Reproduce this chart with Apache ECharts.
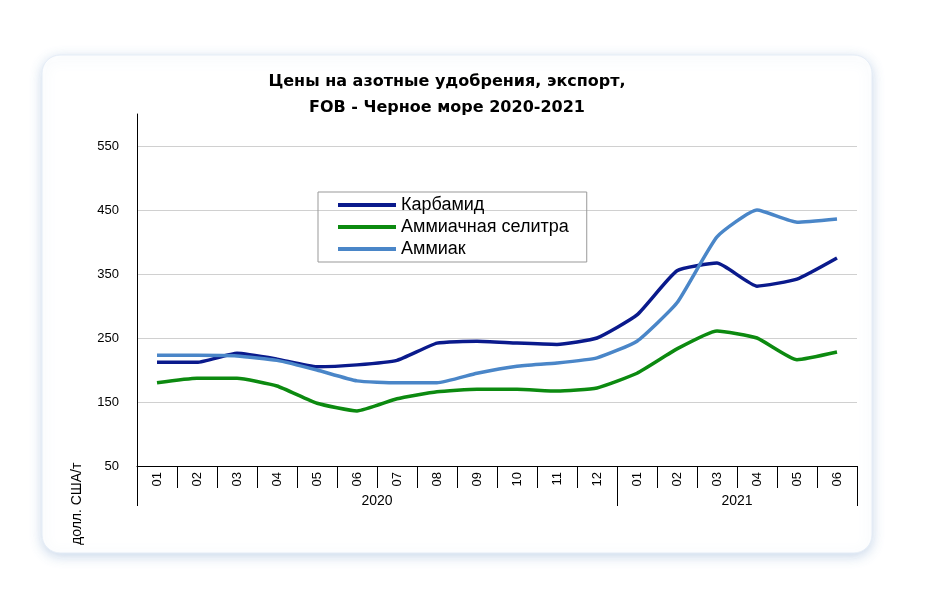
<!DOCTYPE html>
<html>
<head>
<meta charset="utf-8">
<script src="https://cdn.jsdelivr.net/npm/echarts@6/dist/echarts.min.js"></script>
<style>
html, body { margin: 0; padding: 0; background: #fff; }
#chart { width: 932px; height: 602px; }
</style>
</head>
<body>
<div id="chart"></div>
<script>
// months, 2020-01 .. 2021-06
var months = ['01','02','03','04','05','06','07','08','09','10','11','12','01','02','03','04','05','06'];
var yearLabels = { 6: '2020', 15: '2021' };

// prices, USD/t
var karbamid = [212, 212, 226, 217, 205, 208, 215, 242, 245, 242, 240, 250, 286, 355, 367, 331, 342, 375];
var selitra = [180, 187, 187, 175, 148, 136, 155, 166, 170, 170, 167, 172, 195, 233, 261, 250, 216, 228];
var ammiak = [223, 223, 222, 215, 200, 183, 180, 180, 195, 206, 211, 219, 245, 305, 408, 450, 431, 436];

var chart = echarts.init(document.getElementById('chart'));

function line(name, data, color) {
	return {
		name: name,
		type: 'line',
		data: data,
		smooth: 0.15,
		symbol: 'none',
		lineStyle: { width: 3.5, color: color },
		itemStyle: { color: color }
	};
}

chart.setOption({
	animation: false,
	textStyle: { fontFamily: 'Liberation Sans, Arial, sans-serif' },
	graphic: [
		{
			type: 'rect',
			shape: { x: 42, y: 55, width: 830, height: 498, r: 18 },
			style: { fill: '#fff', stroke: '#e4ecf6', lineWidth: 1, shadowBlur: 12, shadowColor: 'rgba(140,170,210,0.45)', shadowOffsetY: 3 },
			z: -10
		},
		{
			type: 'text',
			x: 70, y: 545, rotation: Math.PI / 2,
			style: { text: 'долл. США/т', fontSize: 14, fill: '#000', fontFamily: 'Liberation Sans, Arial' }
		}
	],
	title: {
		text: 'Цены на азотные удобрения, экспорт,\nFOB - Черное море 2020-2021',
		left: 442, top: 64, textAlign: 'center',
		textStyle: { fontSize: 16, fontWeight: 'bold', color: '#000', lineHeight: 26, fontFamily: 'DejaVu Sans, Verdana' }
	},
	legend: {
		orient: 'vertical',
		left: 318, top: 192,
		padding: [4, 18, 4, 20],
		borderColor: '#999', borderWidth: 1,
		itemWidth: 58, itemHeight: 4, itemGap: 4,
		icon: 'rect',
		textStyle: { fontSize: 18, color: '#000' },
		data: ['Карбамид', 'Аммиачная селитра', 'Аммиак']
	},
	grid: { left: 137, right: 75, top: 114, bottom: 136 },
	xAxis: [
		{
			type: 'category',
			data: months,
			boundaryGap: true,
			axisLine: { lineStyle: { color: '#000' } },
			axisTick: { show: true, alignWithLabel: false, interval: 0, length: 22, lineStyle: { color: '#000' } },
			axisLabel: { rotate: 90, interval: 0, fontSize: 13, color: '#000', margin: 6 }
		},
		{
			type: 'value',
			position: 'bottom',
			min: 0, max: 18,
			offset: 22,
			axisLine: { show: false },
			splitLine: { show: false },
			axisTick: { show: true, length: 18, customValues: [0, 12, 18], lineStyle: { color: '#000' } },
			axisLabel: {
				customValues: [6, 15], fontSize: 14, color: '#000', margin: 6,
				formatter: function(v) { return yearLabels[v] || ''; }
			}
		}
	],
	yAxis: {
		type: 'value',
		min: 50, max: 600, interval: 100,
		axisLine: { show: true, lineStyle: { color: '#000' } },
		axisTick: { show: false },
		axisLabel: {
			fontSize: 13, color: '#000', margin: 18,
			formatter: function(v) { return v === 600 ? '' : v; }
		},
		splitLine: { show: true, showMaxLine: false, showMinLine: false, lineStyle: { color: '#d0d0d0' } }
	},
	series: [
		line('Карбамид', karbamid, '#0a1a8c'),
		line('Аммиачная селитра', selitra, '#0c8a10'),
		line('Аммиак', ammiak, '#4a86c8')
	]
});
</script>
</body>
</html>
